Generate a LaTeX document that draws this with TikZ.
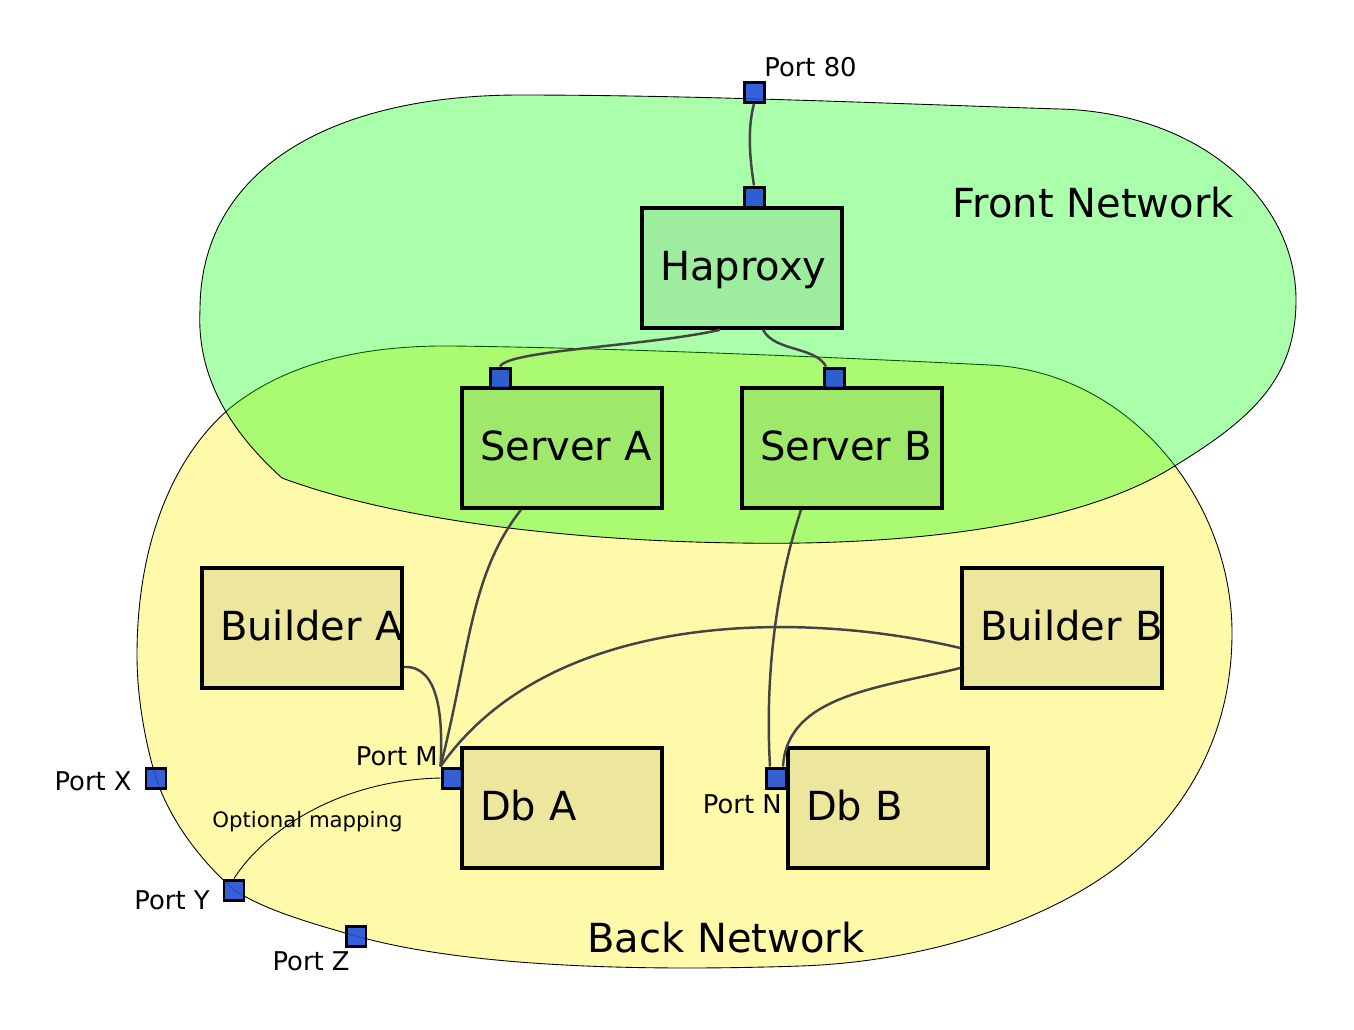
\documentclass[tikz,border=0pt]{standalone}
\usepackage{fontspec}
\setmainfont{DejaVu Sans}
\definecolor{frontgreen}{RGB}{0,255,0}
\definecolor{backyellow}{RGB}{255,249,170}
\definecolor{portblue}{RGB}{30,80,215}
\definecolor{wire}{RGB}{68,68,68}

\begin{document}
\begin{tikzpicture}[x=0.02cm, y=-0.02cm,
    host/.style={draw, line width=2pt, fill=black, fill opacity=0.07, text opacity=1,
      minimum width=4cm, minimum height=2.4cm, inner xsep=0.36cm, text width=3.28cm,
      align=left, text height=0.6cm, text depth=0.12cm,
      font=\fontsize{22.8}{26}\selectfont},
    port/.style={draw, line width=1.7pt, fill=portblue, fill opacity=0.9,
      minimum size=0.4cm, inner sep=0pt},
    portname/.style={inner sep=0pt, font=\fontsize{14.7}{17}\selectfont},
    netname/.style={inner sep=0pt, font=\fontsize{22.8}{26}\selectfont},
    link/.style={draw=wire, line width=1.4pt},
    mapping/.style={draw, line width=0.5pt}]
    \useasboundingbox (0,0) rectangle (1354,1029);

    % networks
    \path[draw, line width=0.5pt, fill=backyellow]
        (137,655) .. controls (137,540) and (175,455) .. (230,408)
        .. controls (290,360) and (370,345) .. (453,346)
        .. controls (620,348) and (850,358) .. (990,365)
        .. controls (1130,372) and (1232,500) .. (1232,633)
        .. controls (1232,730) and (1190,810) .. (1117,867)
        .. controls (1040,925) and (920,962) .. (800,966)
        .. controls (620,972) and (460,965) .. (356,936)
        .. controls (310,923) and (265,910) .. (234,890)
        .. controls (200,860) and (170,820) .. (156,778)
        .. controls (146,745) and (137,700) .. (137,655) -- cycle;
    \path[draw, line width=0.5pt, fill=frontgreen, fill opacity=0.333]
        (282,478) .. controls (240,440) and (196,385) .. (200,310)
        .. controls (200,170) and (330,95) .. (520,95)
        .. controls (700,95) and (900,104) .. (1060,109)
        .. controls (1200,113) and (1296,200) .. (1296,300)
        .. controls (1296,380) and (1250,420) .. (1173,467)
        .. controls (1060,537) and (860,545) .. (740,543)
        .. controls (580,541) and (400,522) .. (282,478) -- cycle;

    \node[host] (ha) at (742,268) {Haproxy};
    \node[host] (sa) at (562,448) {Server~A};
    \node[host] (sb) at (842,448) {Server~B};
    \node[host] (ba) at (302,628) {Builder~A};
    \node[host] (bb) at (1062,628) {Builder~B};
    \node[host] (da) at (562,808) {Db~A};
    \node[host] (db) at (888,808) {Db~B};

    \node[port] (p80) at (754,92) {};
    \node[port] (pha) at (754,197) {};
    \node[port] (psa) at (500,378) {};
    \node[port] (psb) at (834,378) {};
    \node[port] (pm) at (452,778) {};
    \node[port] (pn) at (776,778) {};
    \node[port] (px) at (156,778) {};
    \node[port] (py) at (234,890) {};
    \node[port] (pz) at (356,936) {};

    \node[portname, anchor=base west] (l80) at (764,76) {Port 80};
    \node[portname, anchor=base east] (lm) at (438,765) {Port M};
    \node[portname, anchor=base east] (ln) at (782,813) {Port N};
    \node[portname, anchor=base east] (lx) at (132,790) {Port X};
    \node[portname, anchor=base east] (ly) at (210,909) {Port Y};
    \node[portname, anchor=base east] (lz) at (350,970) {Port Z};
    \node[inner sep=0pt, anchor=base west, font=\fontsize{12.1}{14}\selectfont] (lmap) at (212,827) {Optional mapping};
    \node[netname, anchor=base west] (front) at (952,217) {Front Network};
    \node[netname, anchor=base west] (back) at (587,952) {Back Network};

    \draw[link] (p80.south) .. controls (747,130) and (750,160) .. (pha.north);
    \draw[link] ([xshift=-0.44cm]ha.south) .. controls (650,346) and (508,350) .. (psa.north);
    \draw[link] ([xshift=0.42cm]ha.south) .. controls (775,352) and (815,346) .. ([xshift=-0.16cm]psb.north);
    \draw[link] ([xshift=-0.82cm]sa.south) .. controls (470,575) and (470,650) .. (pm.north west);
    \draw[link] ([yshift=-0.78cm]ba.east) .. controls (440,665) and (443,720) .. (pm.north west);
    \draw[link] ([yshift=-0.4cm]bb.west) .. controls (800,610) and (550,610) .. (pm.north west);
    \draw[link] ([yshift=-0.8cm]bb.west) .. controls (880,688) and (787,695) .. ([xshift=0.14cm]pn.north);
    \draw[link] ([xshift=-0.82cm]sb.south) .. controls (775,590) and (765,680) .. ([xshift=-0.12cm]pn.north);
    \draw[mapping] (pm.west) .. controls (340,780) and (265,830) .. (py.north);
\end{tikzpicture}
\end{document}
